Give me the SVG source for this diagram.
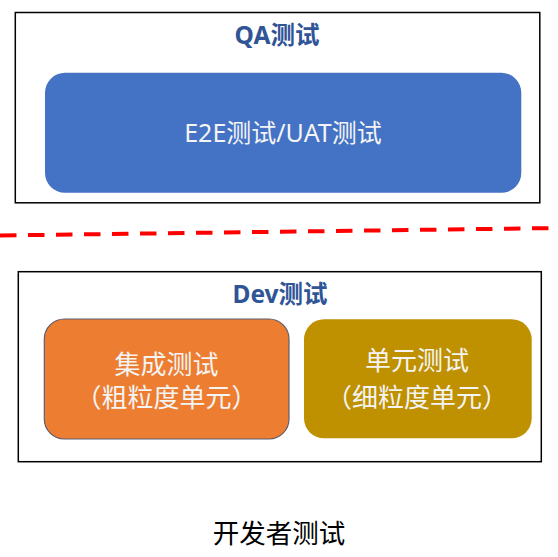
<svg xmlns="http://www.w3.org/2000/svg" width="558" height="557" viewBox="0 0 558 557">
<style>
.frame{fill:#ffffff;stroke:#000000;stroke-width:1.5}
.title{font-family:"Noto Sans","Noto Sans CJK SC",sans-serif;font-weight:bold;font-size:24.5px;fill:#2f5597;text-anchor:middle}
.lbl{font-family:"Noto Sans","Noto Sans CJK SC",sans-serif;font-size:26px;fill:#f4f4f4;text-anchor:middle}
.cap{font-family:"Noto Sans","Noto Sans CJK SC",sans-serif;font-size:26.5px;fill:#000000;text-anchor:middle}
</style>
<rect width="558" height="557" fill="#ffffff"/>
<g id="qa">
<rect class="frame" x="15.3" y="12.5" width="524.5" height="190.3"/>
<text class="title" x="277" y="44">QA测试</text>
</g>
<g id="e2e">
<rect x="45" y="72.8" width="476.3" height="120" rx="20" fill="#4472c4"/>
<text class="lbl" x="283" y="142" style="font-size:25px">E2E测试/UAT测试</text>
</g>
<g id="connectors">
<line x1="0" y1="235.5" x2="558" y2="228" stroke="#ff0000" stroke-width="4" stroke-dasharray="16.5 11.5"/>
</g>
<g id="dev">
<rect class="frame" x="18.3" y="271.7" width="523" height="190"/>
<text class="title" x="280" y="302.5">Dev测试</text>
</g>
<g id="integration">
<rect x="44.3" y="319" width="244.7" height="120" rx="20" fill="#ed7d31" stroke="#5e5e6e" stroke-width="1.2"/>
<text class="lbl" x="166.5" y="374">集成测试</text>
<text class="lbl" x="166.5" y="407">（粗粒度单元）</text>
</g>
<g id="unit">
<rect x="304" y="319.3" width="227.7" height="119" rx="20" fill="#bf9000"/>
<text class="lbl" x="417" y="370">单元测试</text>
<text class="lbl" x="417" y="407">（细粒度单元）</text>
</g>
<g id="caption">
<text class="cap" x="279" y="542.5">开发者测试</text>
</g>
</svg>
